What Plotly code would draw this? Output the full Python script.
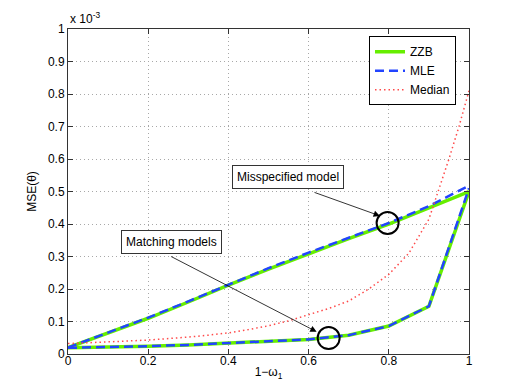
import plotly.graph_objects as go

# ---- data (MSE in units of 1e-3) ----
omega = [0.0, 0.1, 0.2, 0.3, 0.4, 0.5, 0.6, 0.7, 0.8, 0.9, 1.0]
zzb_matched = [0.019, 0.021, 0.024, 0.028, 0.033, 0.038, 0.045, 0.058, 0.086, 0.147, 0.50]
mle_matched = [0.019, 0.021, 0.024, 0.028, 0.033, 0.038, 0.045, 0.058, 0.086, 0.147, 0.51]
zzb_mis = [0.020, 0.065, 0.110, 0.160, 0.212, 0.261, 0.309, 0.355, 0.400, 0.450, 0.500]
mle_mis = [0.020, 0.066, 0.112, 0.162, 0.214, 0.264, 0.312, 0.358, 0.403, 0.455, 0.518]

omega_med = [0.0, 0.05, 0.1, 0.15, 0.2, 0.25, 0.3, 0.35, 0.4, 0.45, 0.5, 0.55, 0.6,
             0.65, 0.7, 0.75, 0.8, 0.85, 0.9, 0.925, 0.95, 0.975, 1.0]
median = [0.032, 0.034, 0.037, 0.040, 0.043, 0.047, 0.052, 0.058, 0.065, 0.075, 0.087,
          0.102, 0.120, 0.140, 0.163, 0.200, 0.245, 0.310, 0.415, 0.505, 0.600, 0.700, 0.810]

xticks = [0, 0.2, 0.4, 0.6, 0.8, 1]
xticklabels = ["0", "0.2", "0.4", "0.6", "0.8", "1"]
yticks = [0, 0.1, 0.2, 0.3, 0.4, 0.5, 0.6, 0.7, 0.8, 0.9, 1]
yticklabels = ["0", "0.1", "0.2", "0.3", "0.4", "0.5", "0.6", "0.7", "0.8", "0.9", "1"]

GREEN = "#66ee00"
BLUE = "#2244ff"
RED = "#ff4a4a"
FONT = "Liberation Sans, Arial, sans-serif"

fig = go.Figure()
fig.add_trace(go.Scatter(x=omega, y=zzb_matched, mode="lines", name="ZZB", legendgroup="zzb",
                         line=dict(color=GREEN, width=3.5)))
fig.add_trace(go.Scatter(x=omega, y=zzb_mis, mode="lines", name="ZZB", legendgroup="zzb",
                         showlegend=False, line=dict(color=GREEN, width=3.5)))
fig.add_trace(go.Scatter(x=omega, y=mle_matched, mode="lines", name="MLE", legendgroup="mle",
                         line=dict(color=BLUE, width=2.5, dash="9px,5px")))
fig.add_trace(go.Scatter(x=omega, y=mle_mis, mode="lines", name="MLE", legendgroup="mle",
                         showlegend=False, line=dict(color=BLUE, width=2.5, dash="9px,5px")))
fig.add_trace(go.Scatter(x=omega_med, y=median, mode="lines", name="Median",
                         line=dict(color=RED, width=1.5, dash="1.5px,3px")))

# circles marking the regions
for cx, cy in [(0.797, 0.403), (0.650, 0.049)]:
    fig.add_shape(type="circle", xref="x", yref="y", xsizemode="pixel", ysizemode="pixel",
                  xanchor=cx, yanchor=cy, x0=-11, x1=11, y0=-11, y1=11,
                  line=dict(color="black", width=2))

# arrows (tip in data coords, tail as pixel offset)
for tx, ty, axo, ayo in [(0.778, 0.425, -67, -24), (0.620, 0.0685, -147, -76)]:
    fig.add_annotation(x=tx, y=ty, xref="x", yref="y", text="", showarrow=True,
                       ax=axo, ay=ayo, arrowhead=2, arrowsize=1.6, arrowwidth=0.8,
                       arrowcolor="black", standoff=0, startstandoff=0)

# text boxes
for txt, px, py in [("Misspecified model", 0.5475, 0.544), ("Matching models", 0.257, 0.345)]:
    fig.add_annotation(x=px, y=py, xref="paper", yref="paper", text=txt, showarrow=False,
                       xanchor="center", yanchor="middle", bgcolor="white",
                       bordercolor="#333", borderwidth=1, borderpad=4,
                       font=dict(family=FONT, size=12, color="black"))

# exponent label
fig.add_annotation(x=0, y=1.035, xref="paper", yref="paper", text="x 10<sup>-3</sup>",
                   showarrow=False, xanchor="left", yanchor="middle",
                   font=dict(family=FONT, size=12, color="black"))

axis_common = dict(showline=True, linecolor="#333", linewidth=1, mirror="allticks",
                   ticks="inside", ticklen=5, tickcolor="#333", showgrid=True,
                   gridcolor="#a8a8a8", griddash="1px,3px", gridwidth=1, zeroline=False,
                   automargin=False,
                   tickfont=dict(family=FONT, size=12, color="black"))

fig.update_xaxes(range=[0, 1], tickvals=xticks, ticktext=xticklabels,
                 ticklabelstandoff=-4,
                 title=dict(text="1−ω<sub>1</sub>", standoff=0,
                            font=dict(family=FONT, size=12, color="black")),
                 **axis_common)
fig.update_yaxes(range=[0, 1], tickvals=yticks, ticktext=yticklabels,
                 title=dict(text="MSE(θ)", standoff=8,
                            font=dict(family=FONT, size=12, color="black")),
                 **axis_common)

# page body has an 8px margin, so the figure is 510x381 offset by 8px
fig.update_layout(
    width=510, height=381,
    margin=dict(l=60, r=49, t=21, b=35, autoexpand=False),
    plot_bgcolor="white", paper_bgcolor="white",
    font=dict(family=FONT, size=12, color="black"),
    legend=dict(x=0.9676, y=0.978, xanchor="right", yanchor="top",
                bgcolor="white", bordercolor="black", borderwidth=1,
                font=dict(family=FONT, size=12), tracegroupgap=0,
                itemwidth=30),
)

fig.write_html("out.html")
